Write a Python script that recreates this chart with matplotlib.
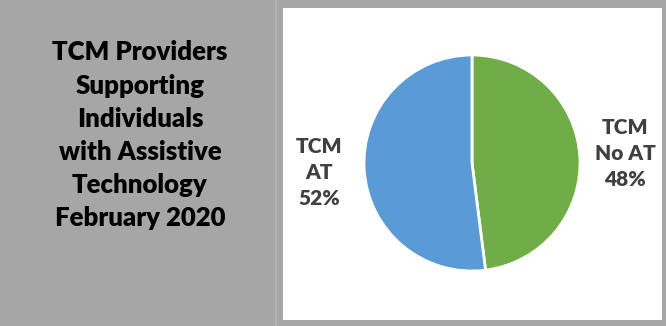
import matplotlib.pyplot as plt
from matplotlib.patches import Rectangle

title = "TCM Providers\nSupporting\nIndividuals\nwith Assistive\nTechnology\nFebruary 2020"
labels = ['TCM\nNo AT\n48%', 'TCM\nAT\n52%']
values = [48, 52]
colors = ['#70AD47', '#5B9BD5']

W, H = 666, 326
fig = plt.figure(figsize=(W / 100, H / 100), dpi=100)
fig.patch.set_facecolor('#A6A6A6')

# white chart box on the right
fig.patches.append(Rectangle((283 / W, (H - 320) / H), (662 - 283) / W, (320 - 8) / H,
                             transform=fig.transFigure, facecolor='white',
                             edgecolor='none', zorder=-2))
fig.patches.append(Rectangle((275 / W, 0), 2 / W, 1, transform=fig.transFigure,
                             facecolor='#B4B4B4', edgecolor='none', zorder=-2))

fig.text(140 / W, 1 - 135 / H, title, ha='center', va='center', fontsize=18.5,
         fontweight='heavy', family='Lato', color='black', linespacing=1.45)

cx, cy, r = 472, 163, 108
ax = fig.add_axes([(cx - r) / W, (H - cy - r) / H, 2 * r / W, 2 * r / H])
ax.set_zorder(2)
ax.patch.set_alpha(0)
wedges, texts = ax.pie(values, labels=labels, colors=colors, startangle=90,
                       counterclock=False, labeldistance=1.42,
                       wedgeprops=dict(edgecolor='white', linewidth=2))
for t in texts:
    t.set_ha('center')
    t.set_va('center')
    t.set_fontsize(15)
    t.set_fontweight('heavy')
    t.set_family('Lato')
    t.set_color('#404040')
    t.set_linespacing(1.45)
ax.set_xlim(-1, 1)
ax.set_ylim(-1, 1)
ax.set_aspect('equal')

fig.savefig('out.png', dpi=100, facecolor=fig.get_facecolor())
